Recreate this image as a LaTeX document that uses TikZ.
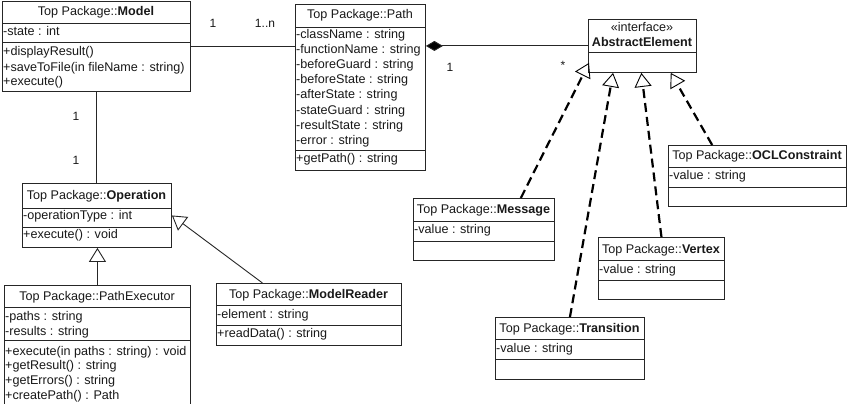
\documentclass[tikz,border=0pt]{standalone}
\usepackage{fontspec}
\setmainfont{Liberation Sans}
\usetikzlibrary{arrows.meta,calc}
\tikzset{
  cls/.style={draw=black!85, line width=0.9pt, anchor=north west, inner sep=0pt},
  div/.style={draw=black!85, line width=0.9pt},
  txt/.style={anchor=west, inner sep=0pt, text height=8pt, text depth=0pt,
              font=\fontsize{12.6}{14.7}\selectfont, text=black!90},
  ttl/.style={txt, anchor=center},
  mult/.style={anchor=center, inner sep=0pt, font=\fontsize{12}{14}\selectfont, text=black!90},
  assoc/.style={draw=black!85, line width=0.9pt},
  gen/.style={draw=black!85, line width=0.9pt, -{Triangle[open, length=14pt, width=17pt]}},
  real/.style={draw=black, line width=2.2pt, dash pattern=on 9pt off 5pt,
               -{Triangle[open, length=14pt, width=17pt, line width=0.9pt]}},
  comp/.style={draw=black!85, line width=0.9pt, {Diamond[length=17pt, width=10pt, fill=black]}-}
}
\begin{document}
\begin{tikzpicture}[x=1pt, y=-1pt]
\useasboundingbox (0,0) rectangle (851,404);
\fill[white] (0,0) rectangle (851,404);

% ---------- Model ----------
\node[cls, minimum width=188pt, minimum height=90pt] (model) at (2,1) {};
\draw[div] (model.west |- 0,23) -- (model.east |- 0,23);
\draw[div] (model.west |- 0,42) -- (model.east |- 0,42);
\node[ttl] (m0) at (96,12) {Top Package::\textbf{Model}};
\node[txt] (m1) at (3,32) {-state : int};
\node[txt] (m2) at (3,52) {+displayResult()};
\node[txt] (m3) at (3,67) {+saveToFile(in fileName : string)};
\node[txt] (m4) at (3,81) {+execute()};

% ---------- Path ----------
\node[cls, minimum width=130pt, minimum height=166pt] (path) at (295,4) {};
\draw[div] (path.west |- 0,27) -- (path.east |- 0,27);
\draw[div] (path.west |- 0,150) -- (path.east |- 0,150);
\node[ttl] (p0) at (360,15) {Top Package::Path};
\node[txt] (p1) at (296,35) {-className : string};
\node[txt] (p2) at (296,50) {-functionName : string};
\node[txt] (p3) at (296,65) {-beforeGuard : string};
\node[txt] (p4) at (296,80) {-beforeState : string};
\node[txt] (p5) at (296,95) {-afterState : string};
\node[txt] (p6) at (296,110) {-stateGuard : string};
\node[txt] (p7) at (296,125) {-resultState : string};
\node[txt] (p8) at (296,140) {-error : string};
\node[txt] (p9) at (296,158) {+getPath() : string};

% ---------- AbstractElement ----------
\node[cls, minimum width=108pt, minimum height=53pt] (ae) at (588,19) {};
\draw[div] (ae.west |- 0,52) -- (ae.east |- 0,52);
\node[ttl] (a0) at (642,28) {«interface»};
\node[ttl] (a1) at (642,43) {\textbf{AbstractElement}};

% ---------- OCLConstraint ----------
\node[cls, minimum width=178pt, minimum height=61pt] (ocl) at (668,145) {};
\draw[div] (ocl.west |- 0,167) -- (ocl.east |- 0,167);
\draw[div] (ocl.west |- 0,187) -- (ocl.east |- 0,187);
\node[ttl] (o0) at (757,155) {Top Package::\textbf{OCLConstraint}};
\node[txt] (o1) at (669,175) {-value : string};

% ---------- Message ----------
\node[cls, minimum width=141pt, minimum height=62pt] (msg) at (413,198) {};
\draw[div] (msg.west |- 0,221) -- (msg.east |- 0,221);
\draw[div] (msg.west |- 0,241) -- (msg.east |- 0,241);
\node[ttl] (g0) at (483.5,209) {Top Package::\textbf{Message}};
\node[txt] (g1) at (414,229) {-value : string};

% ---------- Vertex ----------
\node[cls, minimum width=126pt, minimum height=62pt] (vtx) at (598,237) {};
\draw[div] (vtx.west |- 0,260) -- (vtx.east |- 0,260);
\draw[div] (vtx.west |- 0,280) -- (vtx.east |- 0,280);
\node[ttl] (v0) at (661,249) {Top Package::\textbf{Vertex}};
\node[txt] (v1) at (599,269) {-value : string};

% ---------- Transition ----------
\node[cls, minimum width=149pt, minimum height=62pt] (trn) at (495,317) {};
\draw[div] (trn.west |- 0,339) -- (trn.east |- 0,339);
\draw[div] (trn.west |- 0,359) -- (trn.east |- 0,359);
\node[ttl] (t0) at (569.5,328) {Top Package::\textbf{Transition}};
\node[txt] (t1) at (496,348) {-value : string};

% ---------- Operation ----------
\node[cls, minimum width=149pt, minimum height=64pt] (op) at (22,183) {};
\draw[div] (op.west |- 0,208) -- (op.east |- 0,208);
\draw[div] (op.west |- 0,227) -- (op.east |- 0,227);
\node[ttl] (q0) at (96.5,195) {Top Package::\textbf{Operation}};
\node[txt] (q1) at (23,215) {-operationType : int};
\node[txt] (q2) at (23,234) {+execute() : void};

% ---------- PathExecutor ----------
\node[cls, minimum width=186pt, minimum height=125pt] (pe) at (4,285) {};
\draw[div] (pe.west |- 0,307) -- (pe.east |- 0,307);
\draw[div] (pe.west |- 0,340) -- (pe.east |- 0,340);
\node[ttl] (e0) at (97,296) {Top Package::PathExecutor};
\node[txt] (e1) at (5,316) {-paths : string};
\node[txt] (e2) at (5,331) {-results : string};
\node[txt] (e3) at (5,351) {+execute(in paths : string) : void};
\node[txt] (e4) at (5,365) {+getResult() : string};
\node[txt] (e5) at (5,380) {+getErrors() : string};
\node[txt] (e6) at (5,395) {+createPath() : Path};

% ---------- ModelReader ----------
\node[cls, minimum width=185pt, minimum height=62pt] (mr) at (216,283) {};
\draw[div] (mr.west |- 0,305) -- (mr.east |- 0,305);
\draw[div] (mr.west |- 0,325) -- (mr.east |- 0,325);
\node[ttl] (r0) at (308.5,294) {Top Package::\textbf{ModelReader}};
\node[txt] (r1) at (217,314) {-element : string};
\node[txt] (r2) at (217,333) {+readData() : string};

% ---------- Connectors ----------
\draw[assoc] (model.east) -- (path.west |- model.east);
\draw[comp] (path.east |- ae.west) -- (ae.west);
\draw[assoc] (model.south) -- (model.south |- op.north);
\draw[gen] (pe.north) -- (pe.north |- op.south);
\draw[gen] ($(mr.north west)!0.25!(mr.north east)$) -- (op.east);

\draw[real] ($(msg.north west)!0.76!(msg.north east)$) -- ($(ae.south west)+(1,-10)$);
\draw[real] (trn.north) -- ($(ae.south west)!0.23!(ae.south east)$);
\draw[real] (vtx.north) -- ($(ae.south west)!0.49!(ae.south east)$);
\draw[real] ($(ocl.north west)!0.247!(ocl.north east)$) -- ($(ae.south west)!0.76!(ae.south east)$);

% ---------- Multiplicities ----------
\node[mult] (l1) at (213,23) {1};
\node[mult] (l2) at (265,23) {1..n};
\node[mult] (l3) at (450,67) {1};
\node[mult] (l4) at (563,65) {*};
\node[mult] (l5) at (76,116) {1};
\node[mult] (l6) at (76,160) {1};
\end{tikzpicture}
\end{document}
